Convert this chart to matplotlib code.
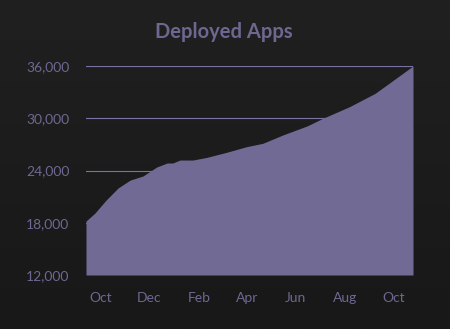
import numpy as np
import pandas as pd
import matplotlib.pyplot as plt
import matplotlib.dates as mdates

# deployed app count over time
dates = pd.to_datetime([
    "2014-09-13", "2014-09-24", "2014-10-08", "2014-10-23", "2014-11-07",
    "2014-11-23", "2014-12-10", "2014-12-23", "2014-12-30", "2015-01-08",
    "2015-01-24", "2015-02-10", "2015-03-07", "2015-04-01", "2015-04-21",
    "2015-05-16", "2015-06-15", "2015-07-05", "2015-08-07", "2015-08-22",
    "2015-09-08", "2015-10-25",
])
apps = [18200, 19100, 20600, 22000, 22900,
        23370, 24400, 24860, 24860, 25200,
        25200, 25500, 26090, 26740, 27120,
        28080, 29110, 30000, 31330, 32050,
        32870, 36000]

yticks = [12000, 18000, 24000, 30000, 36000]

purple = "#716a95"
text_col = "#6e6891"

plt.rcParams["font.family"] = ["Lato", "DejaVu Sans"]

fig = plt.figure(figsize=(4.5, 3.29), dpi=100)

# subtle vertical gradient behind everything
bg = fig.add_axes([0, 0, 1, 1], zorder=-10)
grad = np.linspace(0, 1, 256).reshape(-1, 1)
bg.imshow(grad, aspect="auto", cmap=plt.matplotlib.colors.LinearSegmentedColormap.from_list(
    "bg", ["#202020", "#181818"]), extent=[0, 1, 0, 1], origin="upper")
bg.axis("off")

ax = fig.add_axes([86 / 450, 1 - 275 / 329, (413 - 86) / 450, (275 - 66) / 329])
ax.patch.set_alpha(0)

for y in yticks[1:]:
    ax.axhline(y, color="#7a72a3", lw=0.8, zorder=1)

ax.fill_between(dates, apps, 12000, color=purple, lw=0, zorder=2)

ax.set_ylim(12000, 36000)
ax.set_xlim(dates[0], dates[-1])
ax.set_yticks(yticks)
ax.set_yticklabels([f"{v:,}" for v in yticks])

ax.xaxis.set_major_locator(mdates.MonthLocator(bymonth=[2, 4, 6, 8, 10, 12]))
ax.xaxis.set_major_formatter(mdates.DateFormatter("%b"))

ax.tick_params(axis="both", length=0, colors=text_col, labelsize=10)
ax.tick_params(axis="y", pad=12)
ax.tick_params(axis="x", pad=12)
for s in ax.spines.values():
    s.set_visible(False)

fig.text(224 / 450, 1 - 32 / 329, "Deployed Apps", ha="center", va="center",
         color=text_col, fontsize=14.5, fontweight="bold")

fig.savefig("out.png", dpi=100)
